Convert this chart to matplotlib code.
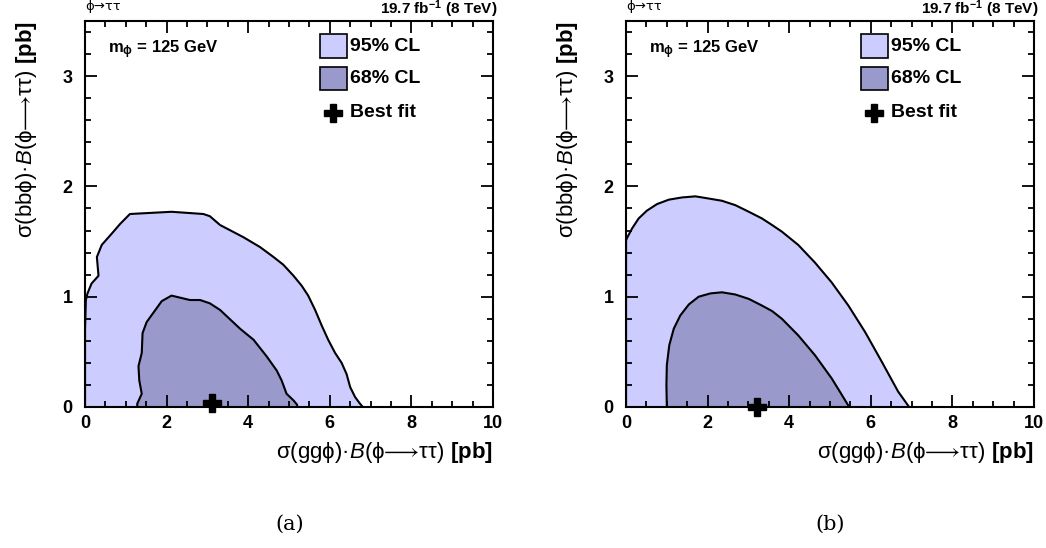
import numpy as np
import matplotlib
matplotlib.use("Agg")
import matplotlib.pyplot as plt
from matplotlib.patches import Rectangle
from matplotlib.ticker import MultipleLocator

# --- contornos de verossimilhança (pb) ---
# (a) ajuste com dados
a95_x = [0.0, 0.0, 0.02, 0.06, 0.16, 0.33, 0.29, 0.41, 0.65, 0.86, 1.10, 2.12, 2.90, 3.06,
         3.31, 3.88, 4.29, 4.62, 4.86, 5.11, 5.31, 5.47, 5.64, 5.80, 5.96, 6.13, 6.29,
         6.41, 6.50, 6.62, 6.74, 6.81]
a95_y = [0.0, 0.70, 0.97, 1.03, 1.12, 1.19, 1.36, 1.47, 1.57, 1.66, 1.75, 1.77, 1.75, 1.73,
         1.65, 1.54, 1.45, 1.36, 1.29, 1.19, 1.10, 1.01, 0.88, 0.74, 0.61, 0.49, 0.40,
         0.30, 0.18, 0.09, 0.03, 0.0]
a68_x = [1.28, 1.28, 1.39, 1.33, 1.31, 1.39, 1.41, 1.51, 1.88, 2.12, 2.57, 2.82, 3.06, 3.31,
         3.80, 4.13, 4.45, 4.70, 4.82, 4.94, 5.11, 5.20, 5.20]
a68_y = [0.0, 0.03, 0.12, 0.24, 0.37, 0.49, 0.67, 0.77, 0.96, 1.01, 0.97, 0.97, 0.94, 0.88,
         0.71, 0.61, 0.46, 0.33, 0.24, 0.12, 0.06, 0.02, 0.0]
a_best = (3.11, 0.04)

# (b) esperado (Asimov)
b95_x = [0.0, 0.0, 0.02, 0.15, 0.31, 0.51, 0.76, 1.05, 1.37, 1.70, 2.03, 2.35, 2.68, 3.01,
         3.33, 3.58, 3.82, 4.22, 4.63, 5.04, 5.45, 5.86, 6.27, 6.67, 6.94]
b95_y = [0.0, 1.51, 1.53, 1.62, 1.71, 1.78, 1.84, 1.88, 1.90, 1.91, 1.89, 1.87, 1.83, 1.77,
         1.71, 1.65, 1.59, 1.47, 1.31, 1.13, 0.92, 0.68, 0.41, 0.14, 0.0]
b68_x = [1.00, 0.99, 1.00, 1.06, 1.17, 1.33, 1.54, 1.78, 2.07, 2.35, 2.68, 3.01, 3.33, 3.58,
         3.82, 4.22, 4.63, 5.04, 5.29, 5.47]
b68_y = [0.0, 0.20, 0.38, 0.56, 0.71, 0.83, 0.93, 1.00, 1.03, 1.04, 1.02, 0.98, 0.92, 0.87,
         0.80, 0.65, 0.47, 0.26, 0.11, 0.0]
b_best = (3.21, 0.0)

C95, C68 = "#ccccff", "#9999cc"
FONTE = ["Liberation Sans", "DejaVu Sans"]
plt.rcParams.update({"font.family": FONTE, "mathtext.fontset": "custom",
                     "mathtext.rm": "Liberation Sans", "mathtext.it": "Liberation Sans:italic",
                     "mathtext.bf": "Liberation Sans:bold", "axes.linewidth": 1.5})

XLAB = r"$\mathrm{σ(ggϕ)·}\mathit{B}\mathrm{(ϕ⟶ττ)}$ $\mathbf{[pb]}$"
YLAB = r"$\mathrm{σ(bbϕ)·}\mathit{B}\mathrm{(ϕ⟶ττ)}$ $\mathbf{[pb]}$"

fig = plt.figure(figsize=(10.46, 5.48), dpi=100)
paineis = [(0.0813, a95_x, a95_y, a68_x, a68_y, a_best, "(a)", 0.277),
           (0.5985, b95_x, b95_y, b68_x, b68_y, b_best, "(b)", 0.794)]

for x0, x95, y95, x68, y68, best, tag, xtag in paineis:
    ax = fig.add_axes([x0, 0.2573, 0.390, 0.7044])
    ax.fill(x95, y95, color=C95, lw=0)
    ax.plot(x95, y95, color="k", lw=1.5)
    ax.fill(x68, y68, color=C68, lw=0)
    ax.plot(x68, y68, color="k", lw=1.5)
    ax.plot(*best, marker="P", ms=13, color="k", mec="k", clip_on=False, zorder=5)

    ax.set_xlim(0, 10); ax.set_ylim(0, 3.5)
    ax.xaxis.set_major_locator(MultipleLocator(2)); ax.xaxis.set_minor_locator(MultipleLocator(0.5))
    ax.yaxis.set_major_locator(MultipleLocator(1)); ax.yaxis.set_minor_locator(MultipleLocator(0.2))
    ax.tick_params(which="both", direction="in", top=True, right=True, width=1.3)
    ax.tick_params(which="major", length=8.5)
    ax.tick_params(which="minor", length=4.5)
    ax.tick_params(axis="x", pad=6); ax.tick_params(axis="y", pad=9)
    for lab in ax.get_xticklabels() + ax.get_yticklabels():
        lab.set_fontweight("bold"); lab.set_fontsize(13)

    ax.text(1.0, -0.117, XLAB, transform=ax.transAxes, ha="right", va="center", fontsize=16)
    ax.text(-0.143, 1.0, YLAB, transform=ax.transAxes, ha="center", va="top", rotation=90,
            fontsize=16)
    ax.text(0.0, 1.037, "ϕ→ττ", transform=ax.transAxes, ha="left", va="center", fontsize=9.5,
            family=["DejaVu Sans"])
    ax.text(1.01, 1.03, r"19.7 fb$^{\mathbf{-1}}$ (8 TeV)", transform=ax.transAxes,
            ha="right", va="center", fontsize=11, fontweight="bold")
    ax.text(0.056, 0.925, r"m$_{\mathbf{ϕ}}$ = 125 GeV", transform=ax.transAxes,
            ha="left", va="center", fontsize=12, fontweight="bold")

    # legenda
    for yc, cor, rot in [(0.935, C95, "95% CL"), (0.852, C68, "68% CL")]:
        ax.add_patch(Rectangle((0.576, yc - 0.03), 0.066, 0.06, transform=ax.transAxes,
                               facecolor=cor, edgecolor="k", lw=1.2, zorder=6))
        ax.text(0.65, yc, rot, transform=ax.transAxes, ha="left", va="center", fontsize=14,
                fontweight="bold")
    ax.plot([0.608], [0.762], marker="P", ms=13, color="k", transform=ax.transAxes)
    ax.text(0.65, 0.762, "Best fit", transform=ax.transAxes, ha="left", va="center",
            fontsize=14, fontweight="bold")

    fig.text(xtag, 0.044, tag, ha="center", va="center", fontsize=15,
             family=["DejaVu Serif"])

fig.savefig("out.png", dpi=100)
